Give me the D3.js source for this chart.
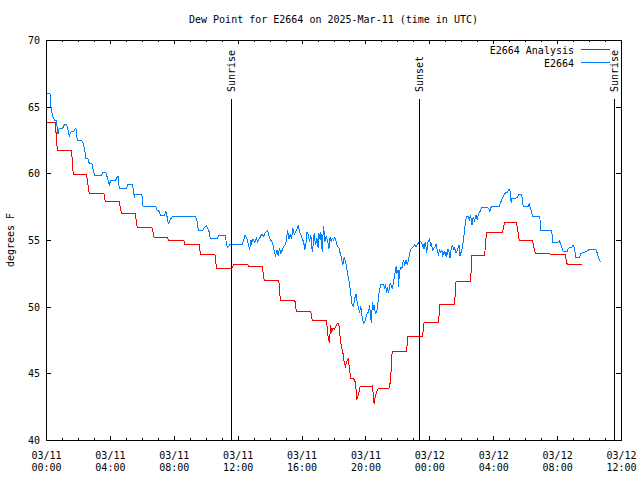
<!DOCTYPE html>
<html><head><meta charset="utf-8">
<script src="https://cdn.jsdelivr.net/npm/d3@7"></script>
<style>
body{margin:0;background:#fff}
svg text{font-family:"DejaVu Sans Mono",monospace;font-size:10px;fill:#000}
</style>
</head><body>
<svg id="chart" width="640" height="480"></svg>
<script>
// ---- data (hours since 2025-03-11 00:00 UTC, degrees F) ----
const titleText = "Dew Point for E2664 on 2025-Mar-11 (time in UTC)";
const yAxisTitle = "degrees F";
const seriesNames = ["E2664 Analysis", "E2664"];
const seriesColors = ["#ff0000", "#0080ff"];

const analysisHours = [0,0.58,0.71,1.60,1.71,2.54,2.71,3.63,3.71,4.58,4.73,5.58,5.71,6.63,6.77,7.58,7.67,8.63,8.67,9.58,9.67,10.58,10.67,11.63,11.77,12.63,12.69,13.54,13.67,14.58,14.67,15.58,15.67,16.58,16.67,17.54,17.58,17.63,17.67,17.75,17.81,17.88,17.96,18.06,18.13,18.21,18.33,18.42,18.5,18.58,18.67,18.75,18.83,18.92,18.96,19.04,19.08,19.33,19.42,19.46,19.54,19.67,20.42,20.5,20.54,20.63,20.75,20.83,21.46,21.54,21.63,21.67,22.58,22.65,23.58,23.67,24.58,24.65,25.58,25.67,26.58,26.67,27.46,27.58,28.58,28.71,29.46,29.63,30.46,30.63,31.54,32.5,32.63,33.54];
const analysisValues = [63.83,63.83,61.73,61.73,59.88,59.88,58.5,58.5,57.9,57.9,57.0,57.0,55.95,55.95,55.2,55.2,55.0,55.0,54.68,54.68,53.93,53.93,52.88,52.88,53.18,53.18,53.03,53.03,51.93,51.93,50.48,50.48,49.65,49.65,48.98,48.98,48.68,48.13,47.63,47.25,48.63,48.13,48.38,48.3,48.5,48.7,48.75,47.63,46.95,46.63,45.8,45.55,45.88,46.05,45.7,45.0,44.63,44.55,43.7,43.0,43.3,44.0,44.05,43.38,42.68,43.38,43.75,43.88,43.85,44.25,45.5,46.63,46.63,47.8,47.8,48.83,48.83,50.18,50.18,51.88,51.88,53.83,53.83,55.58,55.58,56.33,56.33,54.93,54.93,54.0,53.95,53.95,53.18,53.18];

const stationHours = [0,0.25,0.29,0.375,0.46,0.54,0.625,0.71,0.75,0.83,1.04,1.125,1.21,1.29,1.375,1.46,1.5,1.58,1.67,1.75,1.83,1.875,1.96,2.25,2.33,2.42,2.5,2.625,2.71,2.875,2.96,3.04,3.46,3.54,3.75,3.875,3.96,4.04,4.29,4.42,4.46,4.54,4.58,5.04,5.125,5.42,5.5,5.54,5.58,6.0,6.08,6.875,6.96,7.08,7.17,7.42,7.5,7.58,7.67,7.75,7.875,7.92,9.375,9.46,9.54,9.83,9.92,10.04,10.125,10.21,10.29,10.67,10.75,10.83,11.25,11.29,11.375,11.5,12.29,12.375,12.46,12.58,12.67,12.75,12.83,12.875,12.96,13.08,13.17,13.25,13.375,13.46,13.54,13.625,13.71,13.79,13.875,13.96,14.04,14.125,14.21,14.29,14.375,14.46,14.54,14.625,14.71,14.79,14.875,14.96,15.04,15.125,15.21,15.29,15.375,15.46,15.54,15.625,15.71,15.79,15.875,15.96,16.04,16.125,16.21,16.29,16.33,16.42,16.5,16.58,16.67,16.75,16.79,16.875,16.96,17.04,17.08,17.17,17.21,17.29,17.375,17.46,17.54,17.625,17.71,17.79,17.85,17.92,18.0,18.08,18.17,18.25,18.33,18.42,18.5,18.58,18.67,18.75,18.83,18.92,19.0,19.08,19.17,19.25,19.33,19.42,19.5,19.58,19.625,19.71,19.79,19.875,19.96,20.04,20.125,20.21,20.25,20.33,20.375,20.42,20.46,20.5,20.54,20.625,20.71,20.79,20.875,20.96,21.125,21.21,21.25,21.33,21.375,21.46,21.5,21.58,21.67,21.75,21.83,21.92,21.96,22.04,22.08,22.125,22.21,22.29,22.375,22.46,22.54,22.625,22.71,22.79,22.875,23.0,23.08,23.17,23.25,23.33,23.42,23.5,23.58,23.625,23.67,23.71,23.75,23.79,23.83,23.92,24.0,24.08,24.125,24.21,24.29,24.375,24.42,24.5,24.58,24.625,24.71,24.79,24.83,24.92,25.0,25.04,25.08,25.17,25.25,25.29,25.375,25.46,25.54,25.58,25.67,25.75,25.83,25.875,25.92,26.0,26.08,26.17,26.25,26.33,26.42,26.5,26.58,26.67,26.75,26.83,26.92,27.0,27.08,27.17,27.25,27.33,27.625,27.71,27.79,27.875,28.375,28.46,28.54,28.625,28.71,28.79,28.875,28.96,29.04,29.125,29.17,29.42,29.5,29.58,29.79,29.875,30.21,30.25,30.33,30.46,30.92,30.96,31.67,31.71,32.04,32.125,32.21,32.29,32.375,32.625,32.71,32.92,33.0,33.08,33.17,33.42,33.46,33.71,33.79,33.96,34.125,34.42,34.5,34.58,34.71];
const stationValues = [66.0,66.0,65.13,64.5,64.13,64.0,64.0,63.38,62.93,63.38,63.38,63.58,63.68,63.68,63.25,62.75,62.93,63.13,63.13,63.18,63.38,63.38,62.43,62.43,62.25,61.75,61.13,61.08,60.75,60.75,60.25,59.83,59.83,60.08,60.08,59.5,59.13,59.43,59.43,59.58,59.75,59.75,58.83,58.83,59.13,59.13,58.5,58.18,58.43,58.43,57.5,57.5,57.25,57.13,56.83,56.83,57.13,56.75,56.18,56.5,56.68,56.75,56.75,56.38,55.75,55.75,55.93,56.08,55.88,55.63,55.08,55.08,55.18,55.33,55.33,54.63,54.43,54.63,54.68,55.0,55.33,55.08,54.68,54.25,55.0,54.75,55.08,54.83,55.13,54.88,55.13,55.33,55.43,55.25,55.5,55.63,55.68,55.33,55.0,54.93,54.63,54.13,53.83,54.25,53.83,54.38,54.0,54.25,54.5,54.63,54.88,55.75,55.08,55.38,55.13,55.88,55.43,55.63,55.83,56.08,55.63,55.38,55.08,54.88,54.25,54.88,55.63,55.38,54.88,55.38,54.13,54.88,55.5,54.63,55.13,54.43,55.5,55.0,55.63,54.13,56.08,54.88,55.25,55.0,54.33,55.25,54.88,55.13,55.0,55.2,54.88,54.5,54.45,54.0,53.63,53.13,53.7,53.38,52.88,52.25,51.7,51.0,50.13,50.05,50.63,50.95,50.13,49.88,49.5,50.05,49.25,48.75,48.88,49.25,49.5,49.63,50.13,49.25,48.75,50.0,50.38,49.75,50.13,49.5,49.63,50.38,51.25,51.63,51.63,51.38,51.7,51.0,51.45,51.0,51.63,51.7,51.38,51.75,52.38,53.05,52.45,52.75,51.5,52.63,52.95,52.88,53.5,53.13,53.5,53.13,53.63,54.13,54.38,54.5,54.63,54.5,54.7,54.8,54.9,54.8,54.55,54.7,54.3,54.7,54.88,54.5,54.05,54.88,55.05,54.63,54.7,54.25,54.38,54.5,54.7,54.25,53.8,54.25,54.05,54.25,53.75,54.13,53.88,54.13,53.7,54.3,54.05,53.63,54.45,54.55,54.25,54.5,54.0,54.25,54.5,54.63,53.8,54.13,54.45,55.38,56.25,56.75,56.8,56.5,56.88,56.13,56.75,56.45,56.88,56.55,56.95,57.13,57.38,57.45,57.45,57.38,57.13,57.5,57.5,57.8,58.05,58.25,58.45,58.55,58.55,58.8,58.8,57.8,58.13,58.13,58.2,58.38,58.38,57.55,57.55,57.75,57.38,56.8,56.8,55.7,55.7,54.8,54.8,54.95,54.75,54.45,54.13,54.13,54.38,54.45,54.63,54.45,53.7,53.7,54.0,54.05,54.13,54.25,54.3,54.3,54.05,53.7,53.38];

const eventLabels = ["Sunrise", "Sunset", "Sunrise"];
const eventHours = [11.64, 23.39, 35.6];

const yTickValues = [40, 45, 50, 55, 60, 65, 70];
const yDomain = [40, 70];
const xStartUTC = Date.UTC(2025, 2, 11, 0, 0);
const xEndUTC = Date.UTC(2025, 2, 12, 12, 0);

// ---- layout ----
const L = 46, R = 621, T = 40, B = 440;
const svg = d3.select("#chart");
const toDate = h => new Date(xStartUTC + h * 3600000);

const x = d3.scaleUtc().domain([new Date(xStartUTC), new Date(xEndUTC)]).range([L, R]);
const y = d3.scaleLinear().domain(yDomain).range([B, T]);

const fmtDay = d3.utcFormat("%m/%d"), fmtTime = d3.utcFormat("%H:%M");
const majorTicks = d3.utcHour.every(4).range(new Date(xStartUTC), new Date(xEndUTC + 1));
const minorTicks = d3.utcHour.every(1).range(new Date(xStartUTC), new Date(xEndUTC + 1));

// title
svg.append("text").attr("x", (L + R) / 2).attr("y", 23).attr("text-anchor", "middle").text(titleText);

// y axis title
svg.append("text").attr("transform", `translate(14,${(T + B) / 2}) rotate(-90)`)
  .attr("text-anchor", "middle").text(yAxisTitle);

function styleAxis(g) {
  g.select(".domain").remove();
  g.selectAll("line").attr("stroke", "#000").attr("shape-rendering", "crispEdges");
}

// minor x ticks bottom & top
svg.append("g").attr("transform", `translate(0,${B})`)
  .call(d3.axisBottom(x).tickValues(minorTicks).tickSize(-2).tickFormat(""))
  .call(styleAxis);
svg.append("g").attr("transform", `translate(0,${T})`)
  .call(d3.axisTop(x).tickValues(minorTicks).tickSize(-2).tickFormat(""))
  .call(styleAxis);

// major x ticks bottom with two-line labels
const xAxisG = svg.append("g").attr("transform", `translate(0,${B})`)
  .call(d3.axisBottom(x).tickValues(majorTicks).tickSize(-4).tickFormat(d => fmtDay(d) + "|" + fmtTime(d)))
  .call(styleAxis);
xAxisG.selectAll("text").each(function () {
  const t = d3.select(this);
  const parts = t.text().split("|");
  t.text("").attr("y", 0).attr("dy", null).attr("fill", "#000")
    .style("font-family", '"DejaVu Sans Mono",monospace').style("font-size", "10px");
  t.append("tspan").attr("x", 0).attr("y", 18.5).text(parts[0]);
  t.append("tspan").attr("x", 0).attr("y", 31).text(parts[1]);
});
svg.append("g").attr("transform", `translate(0,${T})`)
  .call(d3.axisTop(x).tickValues(majorTicks).tickSize(-4).tickFormat(""))
  .call(styleAxis);

// y axis left & right
const yAxisG = svg.append("g").attr("transform", `translate(${L},0)`)
  .call(d3.axisLeft(y).tickValues(yTickValues).tickSize(-5).tickPadding(6).tickFormat(d3.format("d")))
  .call(styleAxis);
yAxisG.selectAll("text").attr("fill", "#000")
  .style("font-family", '"DejaVu Sans Mono",monospace').style("font-size", "10px").attr("dy", "0.35em");
svg.append("g").attr("transform", `translate(${R},0)`)
  .call(d3.axisRight(y).tickValues(yTickValues).tickSize(-5).tickFormat(""))
  .call(styleAxis);

// series
const seriesData = [
  analysisHours.map((h, i) => [h, analysisValues[i]]),
  stationHours.map((h, i) => [h, stationValues[i]])
];
const line = d3.line().x(d => x(toDate(d[0]))).y(d => y(d[1]));
seriesData.forEach((data, i) => {
  svg.append("path").datum(data).attr("d", line)
    .attr("fill", "none").attr("stroke", seriesColors[i]).attr("stroke-width", 1)
    .attr("shape-rendering", "crispEdges");
});

// event lines
eventHours.forEach((h, i) => {
  const ex = x(toDate(h));
  svg.append("line").attr("x1", ex).attr("x2", ex).attr("y1", 99).attr("y2", B)
    .attr("stroke", "#000").attr("shape-rendering", "crispEdges");
  svg.append("text").attr("transform", `translate(${ex},92) rotate(-90)`)
    .attr("dy", "0.35em").attr("text-anchor", "start").text(eventLabels[i]);
});

// legend
seriesNames.forEach((name, i) => {
  const by = 54 + i * 13;
  svg.append("text").attr("x", 574).attr("y", by).attr("text-anchor", "end").text(name);
  svg.append("line").attr("x1", 581).attr("x2", 610).attr("y1", by - 4.5).attr("y2", by - 4.5)
    .attr("stroke", seriesColors[i]).attr("shape-rendering", "crispEdges");
});

// frame
svg.append("rect").attr("x", L).attr("y", T).attr("width", R - L).attr("height", B - T)
  .attr("fill", "none").attr("stroke", "#000").attr("shape-rendering", "crispEdges");
</script>
</body></html>
